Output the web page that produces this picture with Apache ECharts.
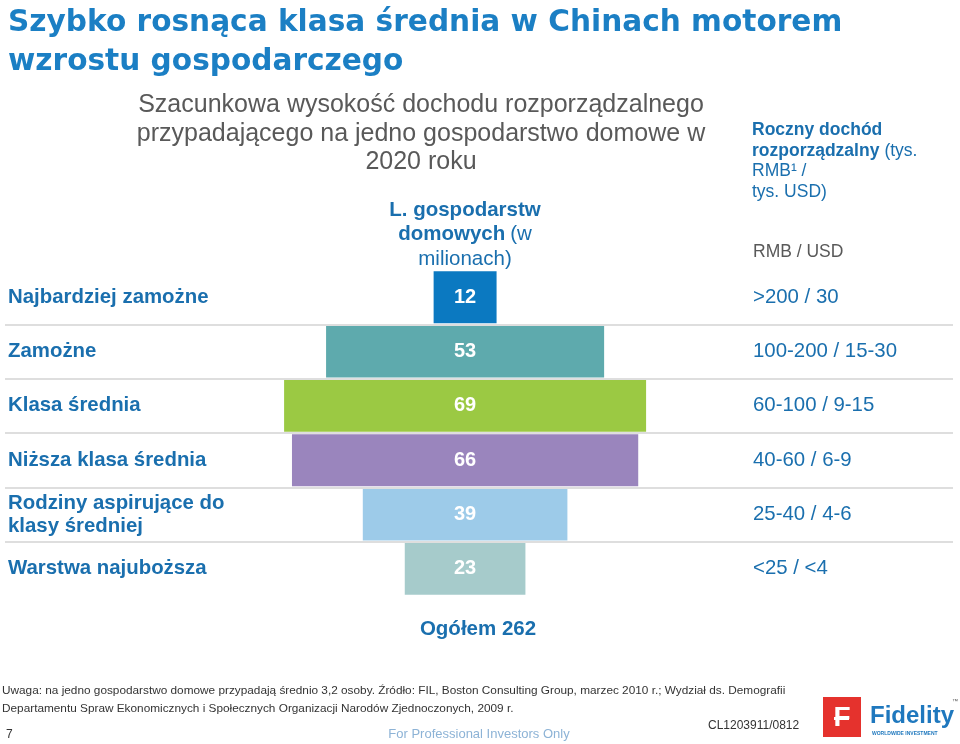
<!DOCTYPE html>
<html>
<head>
<meta charset="utf-8">
<script src="https://cdn.jsdelivr.net/npm/echarts@6/dist/echarts.min.js"></script>
<style>html,body{margin:0;padding:0;background:#fff}#c{width:960px;height:744px}</style>
</head>
<body>
<div id="c"></div>
<script>
// ---- data ----
const categories = ['Najbardziej zamożne', 'Zamożne', 'Klasa średnia', 'Niższa klasa średnia', 'Rodziny aspirujące do\nklasy średniej', 'Warstwa najuboższa'];
const households = [12, 53, 69, 66, 39, 23];           // millions of households
const incomeRanges = ['>200 / 30', '100-200 / 15-30', '60-100 / 9-15', '40-60 / 6-9', '25-40 / 4-6', '<25 / <4'];
const separators = [1, 2, 3, 4, 5];

// ---- styles ----
const barColors = ['#0b79c1', '#5eaaad', '#9bc943', '#9a85bd', '#9dcbe9', '#a6cbcb'];
const BLUE = '#1a6fae';
const FONT = '"Liberation Sans", Arial, sans-serif';
const X_MAX = 180.7, CENTER = 87.7;

const total = households.reduce((a, b) => a + b, 0);
const offsets = households.map(v => CENTER - v / 2);

const chart = echarts.init(document.getElementById('c'), null, {renderer: 'canvas'});
chart.setOption({
  animation: false,
  backgroundColor: '#fff',
  textStyle: {fontFamily: FONT},
  title: [
    {text: 'Szybko rosnąca klasa średnia w Chinach motorem\nwzrostu gospodarczego', left: 8, top: 4, padding: 0,
     textStyle: {fontFamily: '"DejaVu Sans", sans-serif', fontSize: 29.6, fontWeight: 'bold', color: '#1b7fc4', lineHeight: 39}},
    {text: 'Szacunkowa wysokość dochodu rozporządzalnego\nprzypadającego na jedno gospodarstwo domowe w\n2020 roku',
     left: 421, top: 91, textAlign: 'center', padding: 0,
     textStyle: {fontFamily: FONT, fontSize: 25, fontWeight: 'normal', color: '#595959', lineHeight: 28.5, align: 'center'}},
    {text: '{b|L. gospodarstw}\n{b|domowych} {n|(w}\n{n|milionach)}', left: 465, top: 198, textAlign: 'center', padding: 0,
     textStyle: {align: 'center', rich: {
       b: {fontFamily: FONT, fontSize: 20.5, fontWeight: 'bold', color: BLUE, lineHeight: 24.5, align: 'center'},
       n: {fontFamily: FONT, fontSize: 20.5, fontWeight: 'normal', color: BLUE, lineHeight: 24.5, align: 'center'}}}},
    {text: '{b|Roczny dochód}\n{b|rozporządzalny} {n|(tys.}\n{n|RMB¹ /}\n{n|tys. USD)}', left: 752, top: 120, padding: 0,
     textStyle: {rich: {
       b: {fontFamily: FONT, fontSize: 17.5, fontWeight: 'bold', color: BLUE, lineHeight: 20.5},
       n: {fontFamily: FONT, fontSize: 17.5, fontWeight: 'normal', color: BLUE, lineHeight: 20.5}}}},
    {text: 'RMB / USD', left: 753, top: 243, padding: 0,
     textStyle: {fontFamily: FONT, fontSize: 17.5, fontWeight: 'normal', color: '#595959'}},
    {text: 'Ogółem ' + total, left: 478, top: 619, textAlign: 'center', padding: 0,
     textStyle: {fontFamily: FONT, fontSize: 20.5, fontWeight: 'bold', color: BLUE}},
    {text: 'Uwaga: na jedno gospodarstwo domowe przypadają średnio 3,2 osoby. Źródło: FIL, Boston Consulting Group, marzec 2010 r.; Wydział ds. Demografii\nDepartamentu Spraw Ekonomicznych i Społecznych Organizacji Narodów Zjednoczonych, 2009 r.',
     left: 2, top: 682, padding: 0,
     textStyle: {fontFamily: FONT, fontSize: 11.8, fontWeight: 'normal', color: '#333', lineHeight: 18}},
    {text: '7', left: 6, top: 729, padding: 0, textStyle: {fontFamily: FONT, fontSize: 12, fontWeight: 'normal', color: '#333'}},
    {text: 'For Professional Investors Only', left: 479, top: 728, textAlign: 'center', padding: 0,
     textStyle: {fontFamily: FONT, fontSize: 13, fontWeight: 'normal', color: '#8db3d6'}},
    {text: 'CL1203911/0812', left: 708, top: 720, padding: 0,
     textStyle: {fontFamily: FONT, fontSize: 12, fontWeight: 'normal', color: '#333'}}
  ],
  graphic: [
    {type: 'rect', shape: {x: 823, y: 697, width: 38, height: 40}, style: {fill: '#e5322d'}},
    {type: 'text', style: {x: 842, y: 718, text: 'F', textAlign: 'center', textVerticalAlign: 'middle',
      font: 'bold 28px "Liberation Sans", Arial', fill: '#fff'}},
    {type: 'rect', shape: {x: 834, y: 717, width: 15, height: 3}, style: {fill: '#fff'}},
    {type: 'text', style: {x: 870, y: 716, text: 'Fidelity', textVerticalAlign: 'middle',
      font: 'bold 24px "Liberation Sans", Arial', fill: '#1f78be'}},
    {type: 'text', style: {x: 872, y: 734, text: 'WORLDWIDE INVESTMENT', textVerticalAlign: 'middle',
      font: 'bold 5px "Liberation Sans", Arial', fill: '#1f78be'}},
    {type: 'text', style: {x: 952, y: 701, text: '™', textVerticalAlign: 'middle',
      font: '6px "Liberation Sans", Arial', fill: '#555'}}
  ],
  grid: {left: 5, right: 7, top: 270, height: 326, containLabel: false},
  xAxis: {type: 'value', min: 0, max: X_MAX, show: false},
  yAxis: [
    {type: 'category', data: categories, inverse: true, position: 'left',
     axisLine: {show: false}, axisTick: {show: false}, splitLine: {show: false},
     axisLabel: {inside: true, margin: 3, align: 'left', fontFamily: FONT, fontSize: 20.4, fontWeight: 'bold',
       color: BLUE, lineHeight: 23}},
    {type: 'category', data: incomeRanges, inverse: true, position: 'right',
     axisLine: {show: false}, axisTick: {show: false}, splitLine: {show: false},
     axisLabel: {inside: true, margin: 200, align: 'left', fontFamily: FONT, fontSize: 20.4, fontWeight: 'normal',
       color: BLUE}},
    {type: 'value', min: 0, max: 6, inverse: true, show: false}
  ],
  series: [
    {type: 'line', yAxisIndex: 2, data: [], z: 1, silent: true,
     markLine: {silent: true, symbol: 'none', label: {show: false},
       lineStyle: {color: '#dedede', width: 2, type: 'solid'},
       data: separators.map(s => ({yAxis: s}))}},
    {type: 'bar', stack: 'p', yAxisIndex: 0, data: offsets, barWidth: 52, silent: true, z: 2,
     itemStyle: {color: 'rgba(0,0,0,0)'}},
    {type: 'bar', stack: 'p', yAxisIndex: 0, barWidth: 52, z: 3,
     data: households.map((v, i) => ({value: v, itemStyle: {color: barColors[i]}})),
     label: {show: true, position: 'inside', formatter: '{c}', fontFamily: FONT, fontSize: 20,
       fontWeight: 'bold', color: '#fff'}}
  ]
});
</script>
</body>
</html>
